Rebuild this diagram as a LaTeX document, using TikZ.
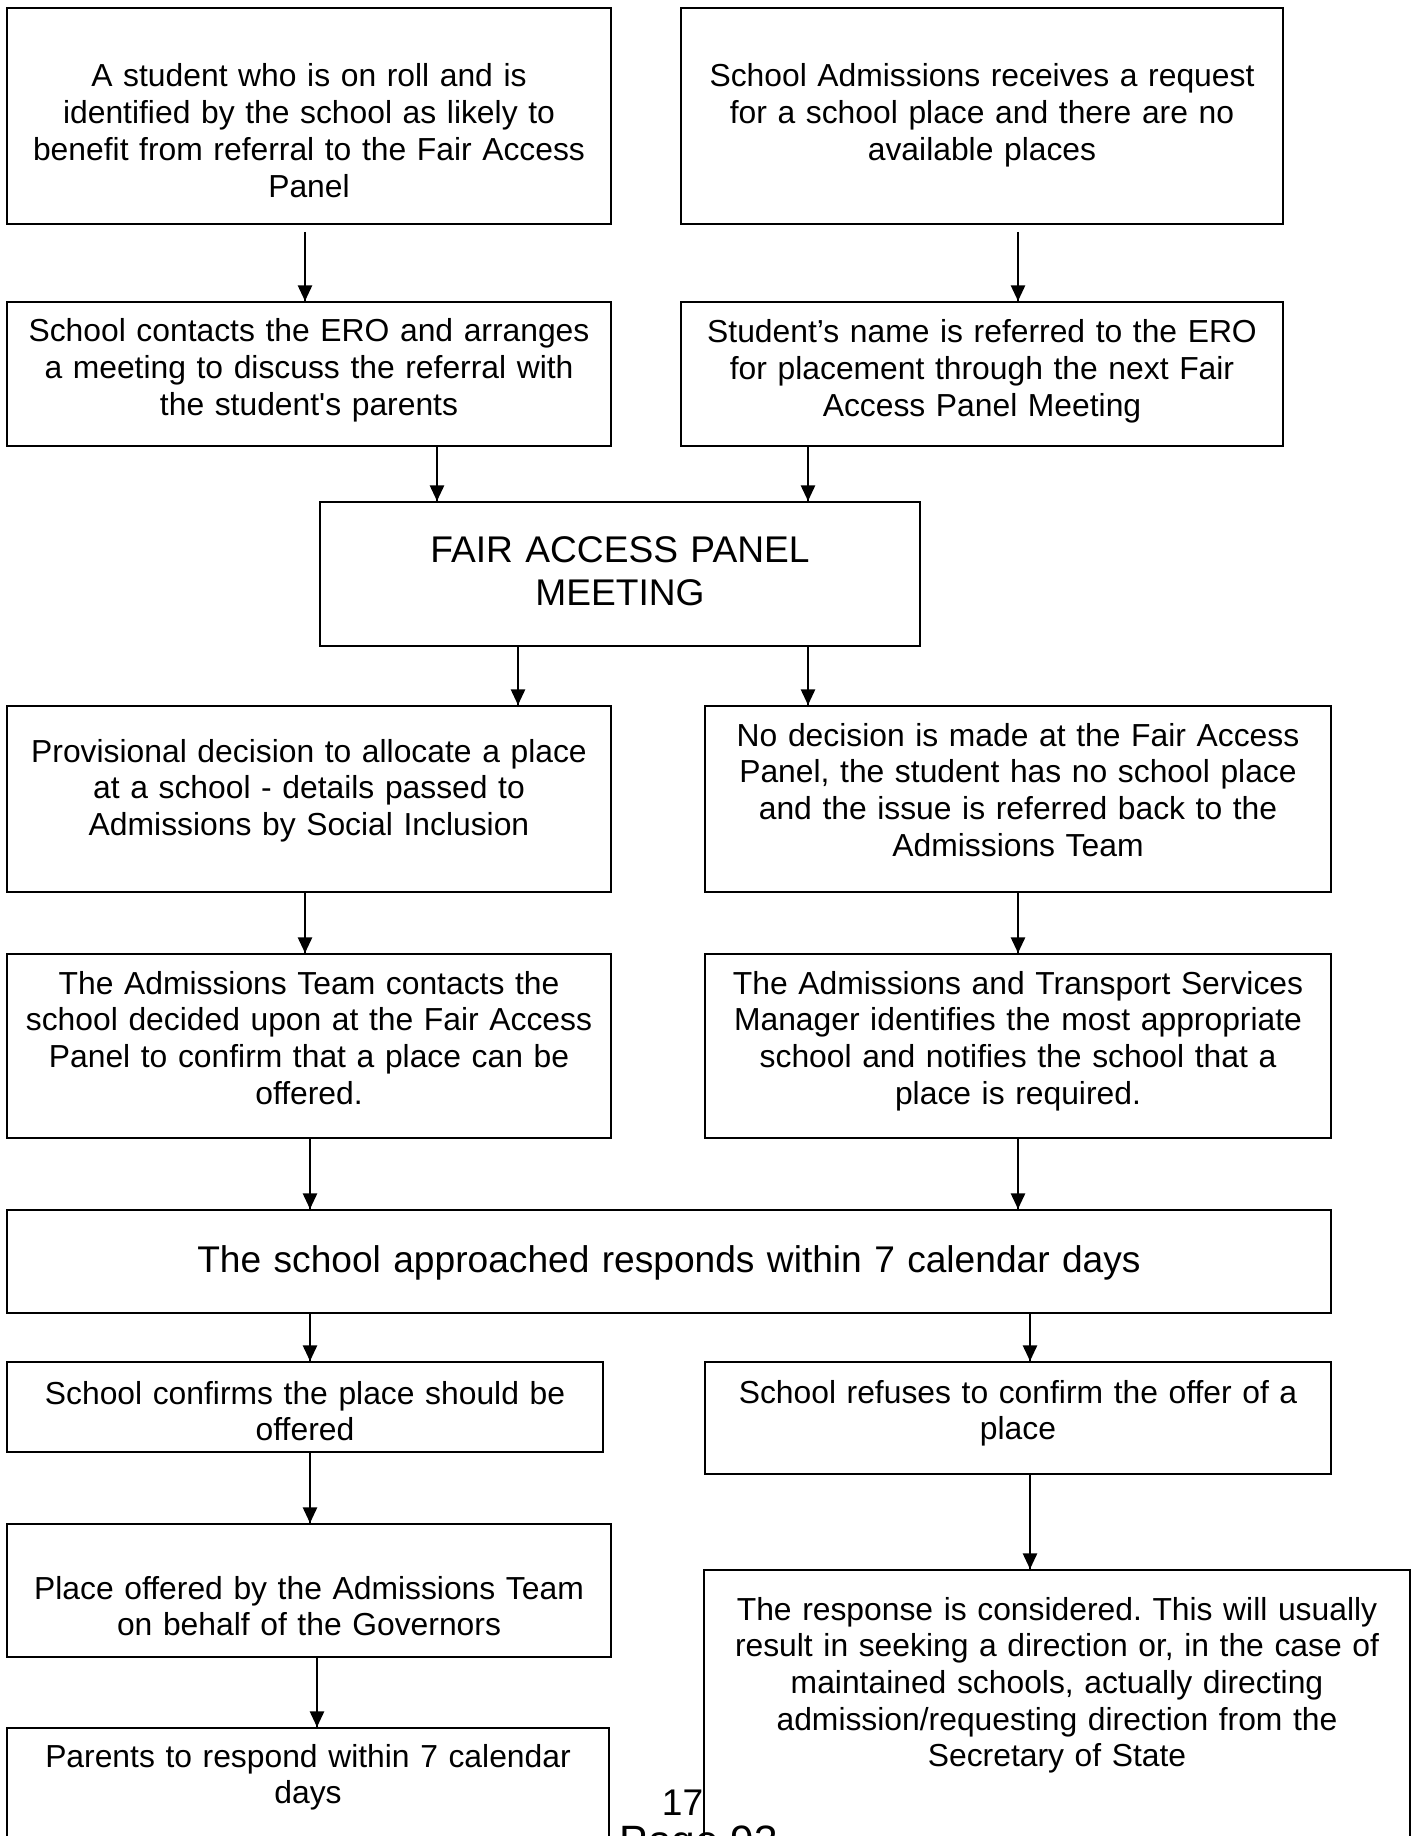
\documentclass[tikz,border=0pt]{standalone}
\usepackage{fontspec}
\setmainfont{Liberation Sans}
\usetikzlibrary{arrows.meta}
\usetikzlibrary{decorations.markings}
\usetikzlibrary{fit}
\tikzset{->/.style = {decoration={markings,
                                  mark=at position 1 with {\arrow{Triangle[length=5.9pt,width=5.4pt]}}},
                      postaction={decorate}}}
\tikzset{box/.style = {draw, line width=.75pt, inner sep=0pt},
         txt/.style = {anchor=base, align=center, inner sep=0pt, text width={#1*0.377pt},
                       font=\fontsize{12pt}{13.85pt}\selectfont},
         txt/.default = 580,
         big/.style = {font=\fontsize{14pt}{16.2pt}\selectfont}}
\frenchspacing

\begin{document}
\begin{tikzpicture}[x=0.377pt, y=-0.377pt, line width=.6pt]
		\useasboundingbox (0,0) rectangle (1416,1836);
		\node [box, fit={(7,8) (611,224)}] (0) {};
		\node [box, fit={(681,8) (1283,224)}] (1) {};
		\node [box, fit={(7,302) (611,446)}] (2) {};
		\node [box, fit={(681,302) (1283,446)}] (3) {};
		\node [box, fit={(320,502) (920,646)}] (4) {};
		\node [box, fit={(7,706) (611,892)}] (5) {};
		\node [box, fit={(705,706) (1331,892)}] (6) {};
		\node [box, fit={(7,954) (611,1138)}] (7) {};
		\node [box, fit={(705,954) (1331,1138)}] (8) {};
		\node [box, fit={(7,1210) (1331,1313)}] (9) {};
		\node [box, fit={(7,1362) (603,1452)}] (10) {};
		\node [box, fit={(705,1362) (1331,1474)}] (11) {};
		\node [box, fit={(7,1524) (611,1657)}] (12) {};
		\node [box, fit={(704,1570) (1410,1900)}] (13) {};
		\node [box, fit={(7,1728) (609,1900)}] (14) {};
		\node [txt] (t0) at (309,87) {A student who is on roll and is\\identified by the school as likely to\\benefit from referral to the Fair Access\\Panel};
		\node [txt] (t1) at (982,87) {School Admissions receives a request\\for a school place and there are no\\available places};
		\node [txt] (t2) at (309,342) {School contacts the ERO and arranges\\a meeting to discuss the referral with\\the student\textquotesingle s parents};
		\node [txt] (t3) at (982,343) {Student’s name is referred to the ERO\\for placement through the next Fair\\Access Panel Meeting};
		\node [txt=800, big] (t4) at (620,563) {FAIR ACCESS PANEL\\MEETING};
		\node [txt] (t5) at (309,762) {Provisional decision to allocate a place\\at a school - details passed to\\Admissions by Social Inclusion};
		\node [txt] (t6) at (1018,746) {No decision is made at the Fair Access\\Panel, the student has no school place\\and the issue is referred back to the\\Admissions Team};
		\node [txt] (t7) at (309,994) {The Admissions Team contacts the\\school decided upon at the Fair Access\\Panel to confirm that a place can be\\offered.};
		\node [txt] (t8) at (1018,994) {The Admissions and Transport Services\\Manager identifies the most appropriate\\school and notifies the school that a\\place is required.};
		\node [txt=1200, big] (t9) at (669,1272) {The school approached responds within 7 calendar days};
		\node [txt] (t10) at (305,1404) {School confirms the place should be\\offered};
		\node [txt] (t11) at (1018,1403) {School refuses to confirm the offer of a\\place};
		\node [txt] (t12) at (309,1599) {Place offered by the Admissions Team\\on behalf of the Governors};
		\node [txt=680] (t13) at (1057,1620) {The response is considered. This will usually\\result in seeking a direction or, in the case of\\maintained schools, actually directing\\admission/requesting direction from the\\Secretary of State};
		\node [txt] (t14) at (308,1767) {Parents to respond within 7 calendar\\days};
		\node [anchor=base east, inner sep=0pt, font=\fontsize{14pt}{16pt}\selectfont] (t15) at (704,1815) {17};
		\node [anchor=base west, inner sep=0pt, font=\fontsize{16pt}{18pt}\selectfont] (t16) at (619,1855) {Page 93};
		\coordinate (x0) at (305,0);
		\coordinate (x1) at (1018,0);
		\coordinate (x2) at (437,0);
		\coordinate (x3) at (808,0);
		\coordinate (x4) at (518,0);
		\coordinate (x5) at (310,0);
		\coordinate (x6) at (1030,0);
		\coordinate (x7) at (317,0);
		\draw [->, shorten <=2.6pt] (0.south -| x0) to (2.north -| x0);
		\draw [->, shorten <=2.6pt] (1.south -| x1) to (3.north -| x1);
		\draw [->] (2.south -| x2) to (4.north -| x2);
		\draw [->] (3.south -| x3) to (4.north -| x3);
		\draw [->] (4.south -| x4) to (5.north -| x4);
		\draw [->] (4.south -| x3) to (6.north -| x3);
		\draw [->] (5.south -| x0) to (7.north -| x0);
		\draw [->] (6.south -| x1) to (8.north -| x1);
		\draw [->] (7.south -| x5) to (9.north -| x5);
		\draw [->] (8.south -| x1) to (9.north -| x1);
		\draw [->] (9.south -| x5) to (10.north -| x5);
		\draw [->] (9.south -| x6) to (11.north -| x6);
		\draw [->] (10.south -| x5) to (12.north -| x5);
		\draw [->] (11.south -| x6) to (13.north -| x6);
		\draw [->] (12.south -| x7) to (14.north -| x7);
	\end{tikzpicture}
\end{document}
